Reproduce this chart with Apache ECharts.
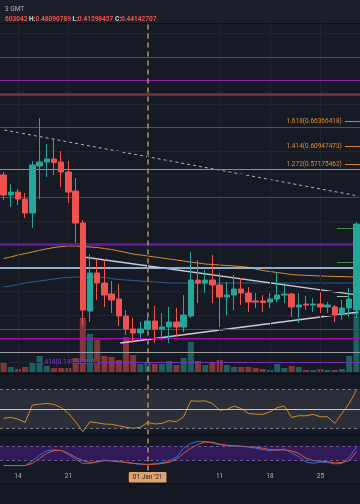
<!DOCTYPE html>
<html><head><meta charset="utf-8">
<script src="https://cdn.jsdelivr.net/npm/echarts@6/dist/echarts.min.js"></script>
<style>html,body{margin:0;padding:0;background:#161a25;}#c{width:360px;height:504px;}</style>
</head><body><div id="c"></div><script>
// ---------- data ----------
const dates = ['2020-12-12','2020-12-13','2020-12-14','2020-12-15','2020-12-16','2020-12-17','2020-12-18','2020-12-19','2020-12-20','2020-12-21','2020-12-22','2020-12-23','2020-12-24','2020-12-25','2020-12-26','2020-12-27','2020-12-28','2020-12-29','2020-12-30','2020-12-31',
'2021-01-01','2021-01-02','2021-01-03','2021-01-04','2021-01-05','2021-01-06','2021-01-07','2021-01-08','2021-01-09','2021-01-10','2021-01-11','2021-01-12','2021-01-13','2021-01-14','2021-01-15','2021-01-16','2021-01-17','2021-01-18','2021-01-19','2021-01-20','2021-01-21','2021-01-22','2021-01-23','2021-01-24','2021-01-25','2021-01-26','2021-01-27','2021-01-28','2021-01-29','2021-01-30'];
const opens = [0.5483,0.5057,0.5120,0.4971,0.4673,0.5675,0.5760,0.5824,0.5760,0.5547,0.5142,0.4460,0.2583,0.3393,0.3180,0.2946,0.2839,0.2477,0.2199,0.2114,
0.2199,0.2370,0.2199,0.2242,0.2349,0.2242,0.2477,0.3244,0.3180,0.3244,0.3138,0.2882,0.2924,0.3052,0.2967,0.2797,0.2797,0.2775,0.2839,0.2924,0.2946,0.2669,0.2732,0.2711,0.2732,0.2669,0.2669,0.2519,0.2647,0.2605];
const closes = [0.5057,0.5120,0.4971,0.4673,0.5696,0.5760,0.5824,0.5750,0.5547,0.5120,0.4460,0.2605,0.3393,0.3180,0.2924,0.2818,0.2477,0.2199,0.2114,0.2199,
0.2370,0.2199,0.2242,0.2349,0.2242,0.2498,0.3244,0.3180,0.3244,0.3138,0.2882,0.2924,0.3052,0.2967,0.2775,0.2775,0.2764,0.2839,0.2924,0.2946,0.2669,0.2711,0.2711,0.2732,0.2669,0.2711,0.2498,0.2647,0.2839,0.4438];
const lows = [0.4950,0.4801,0.4843,0.4566,0.4353,0.4971,0.5440,0.5483,0.5227,0.4886,0.4033,0.2285,0.2349,0.2818,0.2669,0.2541,0.2263,0.2071,0.1901,0.2007,
0.2178,0.1901,0.1965,0.1901,0.2029,0.2135,0.2434,0.2754,0.2967,0.2754,0.2242,0.2498,0.2605,0.2711,0.2562,0.2647,0.2562,0.2647,0.2775,0.2754,0.2455,0.2327,0.2605,0.2562,0.2541,0.2541,0.2349,0.2391,0.2455,0.2434];
const highs = [0.5547,0.5291,0.5184,0.5099,0.5782,0.6698,0.6144,0.6272,0.5995,0.5782,0.5419,0.4524,0.3799,0.3692,0.3692,0.3223,0.3159,0.2605,0.2434,0.2349,
0.2519,0.2690,0.2541,0.2669,0.2647,0.2924,0.3841,0.3671,0.3457,0.3777,0.3393,0.3202,0.3351,0.3287,0.3095,0.2967,0.2924,0.2967,0.3415,0.3180,0.2967,0.2967,0.2903,0.2860,0.2988,0.2775,0.2711,0.2818,0.3074,0.4481];
const volumes = [10,5,3,5,10,16,6,4,4,4,14,54,38,32,16,15,12,35,17,8,
9,8,8,11,7,14,30,11,7,10,12,7,5,5,5,4,3,2,8,4,6,5,2,2,3,2,2,3,16,59];
const maOrange = [0.3703,0.3735,0.3777,0.3809,0.3841,0.3877,0.3909,0.3937,0.3958,0.3969,0.3969,0.3958,0.3948,0.3937,0.3916,0.3894,0.3863,0.3831,0.3799,0.3777,
0.3756,0.3735,0.3713,0.3692,0.3671,0.3649,0.3628,0.3607,0.3585,0.3575,0.3564,0.3553,0.3543,0.3532,0.3511,0.3479,0.3447,0.3425,0.3404,0.3383,0.3361,0.3351,0.3344,0.3338,0.3330,0.3325,0.3321,0.3317,0.3313,0.3308];
const maBlue = [0.3095,0.3116,0.3148,0.3180,0.3202,0.3223,0.3244,0.3266,0.3287,0.3298,0.3308,0.3308,0.3308,0.3308,0.3298,0.3276,0.3255,0.3244,0.3234,0.3223,
0.3212,0.3202,0.3191,0.3180,0.3180,0.3180,0.3180,0.3180,0.3180,0.3180,0.3180,0.3180,0.3180,0.3180,0.3180,0.3180,0.3180,0.3180,0.3180,0.3180,0.3180,0.3180,0.3180,0.3180,0.3180,0.3180,0.3180,0.3180,0.3180,0.3180];
const rsi = [40.5,41.5,39.5,36.4,53.9,54.9,55.6,54.6,51.5,45.5,37.0,27.0,37.0,36.0,34.7,34.4,33.0,31.4,30.4,31.4,
36.4,34.7,35.4,38.1,37.0,42.1,58.2,57.9,58.2,55.6,48.8,49.5,52.9,50.5,45.5,44.8,44.5,47.1,51.5,52.9,41.5,43.1,43.1,44.5,42.1,42.1,35.4,45.5,55.6,69.0];
const stochK = [0,0,0,0,20,43,61,64,61,46,26,9,9,16,23,20,18,13,9,5,
5,8,12,19,34,71,91,99,99,93,85,81,80,79,76,71,65,62,64,68,53,36,15,9,15,13,7,9,34,75];
const stochD = [0,0,0,0,9,30,50,61,62,50,34,20,13,15,20,19,16,13,9,7,
5,5,9,13,27,50,71,87,96,95,88,84,81,79,77,75,71,65,64,64,60,50,30,20,18,16,11,13,20,57];

const tickDates = ['2020-12-14','2020-12-21','2021-01-11','2021-01-18','2021-01-25'];
const tickLabels = ['14','21','11','18','25'];
const gridDates = ['2020-12-14','2020-12-21','2021-01-01','2021-01-11','2021-01-18','2021-01-25'];
const gridPrices = [0.85,0.80,0.75,0.70,0.65,0.60,0.55,0.50,0.45,0.40,0.35,0.30,0.25,0.20,0.15];
const levelPrices = [0.80,0.75,0.7167,0.65,0.5568,0.50,0.40,0.35,0.2199,0.20,0.1709];
const fibPrices = [0.66366418,0.60947473,0.57175462];
const fibLabels = ['1.618(0.66366418)','1.414(0.60947473)','1.272(0.57175462)'];
const fib2Price = 0.14918568, fib2Label = '1.414(0.14918568)';
// trend lines: [date index, price]
const trendDown = [[0.1,0.6442],[49.3,0.5035]];
const trendUpper = [[11.1,0.3735],[49.3,0.2924]];
const trendLower = [[16.2,0.1901],[49.3,0.2562]];
const targetLines = [[46.3,49.3,0.4353],[46.3,48.9,0.3628],[46.3,47.8,0.2903]];
const crosshairDate = '2021-01-01', crosshairLabel = "01 Jan '21";
const header1 = '3 GMT';
const headerO = '603042', headerH = '0.48090789', headerL = '0.41598457', headerC = '0.44142707';

// ---------- styles ----------
const UP = '#26a69a', DN = '#ef5350';
const levelStyles = [
 {color:'#8e24aa',width:1},{color:'#8e24aa',width:1},{color:'#7c3434',width:2.5},{color:'#b3262b',width:1},
 {color:'#8a8d96',width:1},{color:'#b000b8',width:1},{color:'#6a1b9a',width:2.5},{color:'#b7dcff',width:1.5},
 {color:'#4a4d58',width:1},{color:'#b000b8',width:1},{color:'#9a9da6',width:1}];
const targetColors = ['#3f8f45','#3f8f45','#8fd19e'];

const L = -4.33, R = -2.17;
const chart = echarts.init(document.getElementById('c'), null, {renderer:'canvas'});
const cat = (gi, extra) => Object.assign({type:'category', data:dates, gridIndex:gi, show:false, boundaryGap:true}, extra||{});
const candleData = dates.map((d,i)=>[opens[i],closes[i],lows[i],highs[i]]);
const mlBase = {symbol:'none', silent:true, animation:false, label:{show:false}};

const option = {
  animation:false,
  backgroundColor:'#161a25',
  title:[
    {text:header1, left:0, top:1, textStyle:{color:'#b2b5be', fontSize:6.5, fontWeight:'normal', fontFamily:'Roboto'}},
    {text:'{r|'+headerO+'} {w|H:}{r|'+headerH+'} {w|L:}{r|'+headerL+'} {w|C:}{r|'+headerC+'}', left:0, top:11,
     textStyle:{fontSize:6.5, fontFamily:'Roboto', rich:{r:{color:'#ef5350',fontSize:6.5,fontFamily:'Roboto'}, w:{color:'#d1d4dc',fontSize:6.5,fontFamily:'Roboto'}}}}
  ],
  graphic:[
    {type:'rect', shape:{x:0,y:0,width:360,height:23}, style:{fill:'#1b1f2a'}, z:-10},
    {type:'rect', shape:{x:0,y:23,width:360,height:1}, style:{fill:'#0c0e14'}, z:-10},
    {type:'rect', shape:{x:0,y:373,width:360,height:2}, style:{fill:'#0f121a'}, z:-10},
    {type:'rect', shape:{x:0,y:434,width:360,height:2}, style:{fill:'#0f121a'}, z:-10},
    {type:'rect', shape:{x:0,y:484,width:360,height:20}, style:{fill:'#131722'}, z:-10},
    {type:'rect', shape:{x:0,y:483,width:360,height:1}, style:{fill:'#0c0e14'}, z:-10}
  ],
  grid:[
    {left:L, right:R, top:23, height:349},
    {left:L, right:R, top:292, height:80},
    {left:L, right:R, top:376, height:57},
    {left:L, right:R, top:441.1, height:24.5},
    {left:L, right:R, top:23, height:447.5}
  ],
  xAxis:[
    cat(0),
    {type:'value', gridIndex:0, min:-0.5, max:49.5, show:false},
    cat(1), cat(2),
    cat(3, {show:true, axisLine:{show:false}, axisTick:{show:false}, splitLine:{show:false},
      axisLabel:{interval:0, margin:7.5, color:'#b2b5be', fontSize:6.5, fontFamily:'Roboto',
        formatter:(v)=>{const k=tickDates.indexOf(v); return k>=0?tickLabels[k]:'';}}}),
    cat(4)
  ],
  yAxis:[
    {type:'value', gridIndex:0, min:0.1283, max:0.8724, show:false},
    {type:'value', gridIndex:1, min:0, max:80, show:false},
    {type:'value', gridIndex:2, min:25.6, max:83.5, show:false},
    {type:'value', gridIndex:3, min:0, max:100, show:false},
    {type:'value', gridIndex:4, min:0, max:1, show:false}
  ],
  series:[
    {type:'line', xAxisIndex:0, yAxisIndex:0, data:[], z:0,
     markLine:Object.assign({}, mlBase, {lineStyle:{color:'#20242f', width:1, type:'solid'},
       data: gridPrices.map(p=>({yAxis:p})).concat(gridDates.map(d=>({xAxis:d})))})},
    {type:'bar', xAxisIndex:2, yAxisIndex:1, barWidth:6, z:1,
     data: volumes.map((v,i)=>({value:v, itemStyle:{color: closes[i]>=opens[i] ? 'rgba(38,166,154,0.5)' : 'rgba(239,83,80,0.5)'}}))},
    {type:'line', xAxisIndex:0, yAxisIndex:0, data:[], z:2,
     markLine:Object.assign({}, mlBase, {data: levelPrices.map((p,i)=>({yAxis:p, lineStyle:Object.assign({type:'solid'}, levelStyles[i])}))})},
    {type:'line', xAxisIndex:0, yAxisIndex:0, data:maOrange, symbol:'none', z:3, lineStyle:{color:'#d98b2b', width:1}},
    {type:'line', xAxisIndex:0, yAxisIndex:0, data:maBlue, symbol:'none', z:3, lineStyle:{color:'#2c5e8c', width:1}},
    {type:'line', xAxisIndex:1, yAxisIndex:0, data:trendDown, symbol:'none', z:3, lineStyle:{color:'#b2b5be', width:1, type:[3,3]}},
    {type:'line', xAxisIndex:1, yAxisIndex:0, data:trendUpper, symbol:'none', z:3, lineStyle:{color:'#c9ccd4', width:1.3}},
    {type:'line', xAxisIndex:1, yAxisIndex:0, data:trendLower, symbol:'none', z:3, lineStyle:{color:'#c9ccd4', width:1.3}},
    {type:'line', xAxisIndex:1, yAxisIndex:0, data:[], z:3,
     markLine:Object.assign({}, mlBase, {data: targetLines.map((t,i)=>[{coord:[t[0],t[2]], lineStyle:{color:targetColors[i],width:1,type:'solid'}},{coord:[t[1],t[2]]}])})},
    {type:'line', xAxisIndex:1, yAxisIndex:0, data:[], z:3,
     markLine:{symbol:'none', silent:true, animation:false,
       data: fibPrices.map((p,i)=>[{coord:[47.4,p], lineStyle:{color:'#d9822b',width:1,type:'solid'},
           label:{show:true, position:'start', distance:3, formatter:fibLabels[i], color:'#e08a2a', fontSize:6.5, fontFamily:'Roboto'}},{coord:[49.5,p]}])
       .concat([[{coord:[13.05,fib2Price], lineStyle:{color:'#7b2fbf',width:1,type:'solid'},
           label:{show:true, position:'start', distance:3, formatter:fib2Label, color:'#7e3fd0', fontSize:6.5, fontFamily:'Roboto'}},{coord:[49.5,fib2Price]}]])}},
    {type:'candlestick', xAxisIndex:0, yAxisIndex:0, data:candleData, barWidth:6, z:5,
     itemStyle:{color:UP, color0:DN, borderColor:UP, borderColor0:DN, borderWidth:1}},
    // RSI
    {type:'line', xAxisIndex:3, yAxisIndex:2, data:rsi, symbol:'none', z:3, lineStyle:{color:'#d68a25', width:1},
     markArea:{silent:true, itemStyle:{color:'#2b2e38'}, data:[[{yAxis:30},{yAxis:70}]]},
     markLine:{symbol:'none', silent:true, animation:false, label:{show:false},
       data:[{yAxis:70, lineStyle:{color:'#787b86',type:[3,3],width:1}},{yAxis:30, lineStyle:{color:'#787b86',type:[3,3],width:1}},
             {yAxis:50, lineStyle:{color:'#c3c6ce',type:'solid',width:1}}]}},
    // Stoch
    {type:'line', xAxisIndex:4, yAxisIndex:3, data:stochK, symbol:'none', z:3, lineStyle:{color:'#2f6fe0', width:1},
     markArea:{silent:true, itemStyle:{color:'#32195a'}, data:[[{yAxis:20},{yAxis:80}]]},
     markLine:{symbol:'none', silent:true, animation:false, label:{show:false},
       data:[{yAxis:80, lineStyle:{color:'#6b5a8a',type:[3,3],width:1}},{yAxis:20, lineStyle:{color:'#6b5a8a',type:[3,3],width:1}}]}},
    {type:'line', xAxisIndex:4, yAxisIndex:3, data:stochD, symbol:'none', z:3, lineStyle:{color:'#e0553a', width:1}},
    // crosshair
    {type:'line', xAxisIndex:5, yAxisIndex:4, data:[], z:10,
     markLine:{symbol:'none', silent:true, animation:false,
       lineStyle:{color:'#b98a62', width:1.5, type:[5,4]},
       label:{show:true, position:'start', distance:1.5, formatter:crosshairLabel, color:'#1e222d', fontSize:6.5, fontFamily:'Roboto',
         backgroundColor:'#e0a36d', padding:[2,4,1.5,4], borderRadius:1},
       data:[{xAxis:crosshairDate}]}}
  ]
};
chart.setOption(option);
</script></body></html>
